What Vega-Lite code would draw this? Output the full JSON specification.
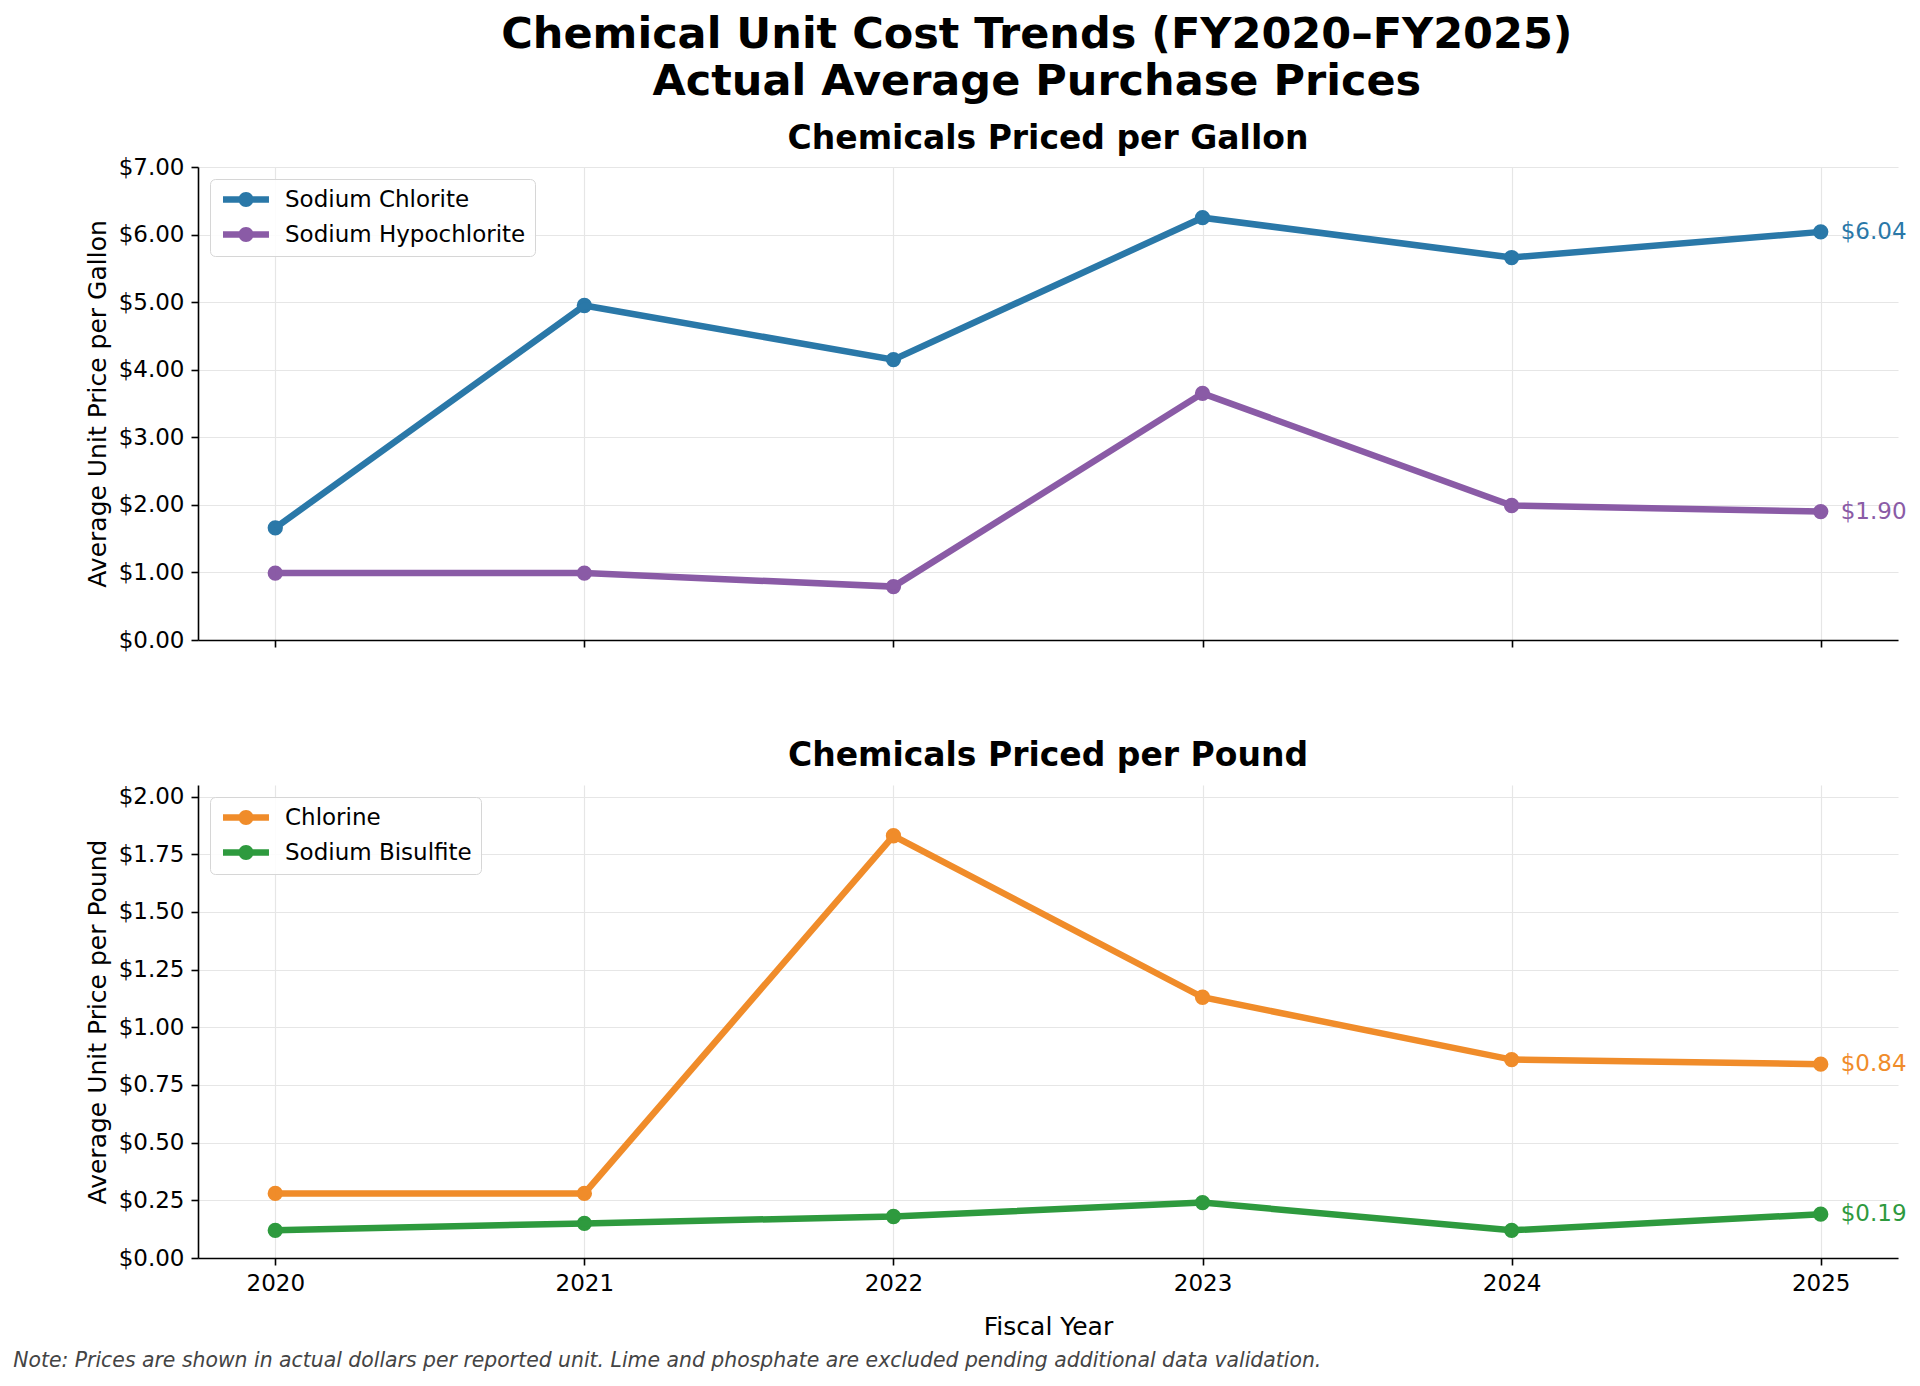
{
  "$schema": "https://vega.github.io/schema/vega-lite/v6.json",
  "background": "white",
  "padding": {"left": 13, "top": 14, "right": 8, "bottom": 8},
  "datasets": {
    "gallon": [
      {"year": 2020, "chemical": "Sodium Chlorite", "price": 1.66},
      {"year": 2021, "chemical": "Sodium Chlorite", "price": 4.95},
      {"year": 2022, "chemical": "Sodium Chlorite", "price": 4.15},
      {"year": 2023, "chemical": "Sodium Chlorite", "price": 6.25},
      {"year": 2024, "chemical": "Sodium Chlorite", "price": 5.66},
      {"year": 2025, "chemical": "Sodium Chlorite", "price": 6.04},
      {"year": 2020, "chemical": "Sodium Hypochlorite", "price": 0.99},
      {"year": 2021, "chemical": "Sodium Hypochlorite", "price": 0.99},
      {"year": 2022, "chemical": "Sodium Hypochlorite", "price": 0.79},
      {"year": 2023, "chemical": "Sodium Hypochlorite", "price": 3.65},
      {"year": 2024, "chemical": "Sodium Hypochlorite", "price": 1.99},
      {"year": 2025, "chemical": "Sodium Hypochlorite", "price": 1.90}
    ],
    "pound": [
      {"year": 2020, "chemical": "Chlorine", "price": 0.28},
      {"year": 2021, "chemical": "Chlorine", "price": 0.28},
      {"year": 2022, "chemical": "Chlorine", "price": 1.83},
      {"year": 2023, "chemical": "Chlorine", "price": 1.13},
      {"year": 2024, "chemical": "Chlorine", "price": 0.86},
      {"year": 2025, "chemical": "Chlorine", "price": 0.84},
      {"year": 2020, "chemical": "Sodium Bisulfite", "price": 0.12},
      {"year": 2021, "chemical": "Sodium Bisulfite", "price": 0.15},
      {"year": 2022, "chemical": "Sodium Bisulfite", "price": 0.18},
      {"year": 2023, "chemical": "Sodium Bisulfite", "price": 0.24},
      {"year": 2024, "chemical": "Sodium Bisulfite", "price": 0.12},
      {"year": 2025, "chemical": "Sodium Bisulfite", "price": 0.19}
    ]
  },
  "title": {
    "text": "Note: Prices are shown in actual dollars per reported unit. Lime and phosphate are excluded pending additional data validation.",
    "orient": "bottom",
    "anchor": "start",
    "fontSize": 20.4,
    "fontStyle": "italic",
    "fontWeight": "normal",
    "color": "#444444",
    "offset": 12,
    "dx": -72
  },
  "vconcat": [
    {
      "title": {
        "text": ["Chemical Unit Cost Trends (FY2020–FY2025)", "Actual Average Purchase Prices"],
        "fontSize": 43,
        "lineHeight": 47,
        "fontWeight": "bold",
        "anchor": "middle",
        "offset": 19,
        "dx": 41,
        "color": "black"
      },
      "spacing": 88,
      "resolve": {"scale": {"color": "independent"}, "legend": {"color": "independent"}},
      "vconcat": [
        {
          "width": 1700,
          "height": 473,
          "data": {"name": "gallon"},
          "title": {"text": "Chemicals Priced per Gallon", "fontSize": 33, "fontWeight": "bold", "offset": 0, "anchor": "middle"},
          "encoding": {
            "x": {
              "field": "year", "type": "quantitative",
              "scale": {"domain": [2019.75, 2025.25], "nice": false, "zero": false},
              "axis": {"values": [2020, 2021, 2022, 2023, 2024, 2025], "labels": false, "title": null}
            },
            "y": {
              "field": "price", "type": "quantitative",
              "scale": {"domain": [0, 7], "nice": false},
              "axis": {"values": [0, 1, 2, 3, 4, 5, 6, 7], "format": "$.2f", "title": "Average Unit Price per Gallon"}
            },
            "color": {
              "field": "chemical", "type": "nominal",
              "scale": {"domain": ["Sodium Chlorite", "Sodium Hypochlorite"], "range": ["#2a78a8", "#8a5ba6"]}
            }
          },
          "layer": [
            {
              "mark": {"type": "point", "filled": true, "size": 235, "opacity": 1},
              "encoding": {
                "color": {
                  "field": "chemical", "type": "nominal",
                  "scale": {"domain": ["Sodium Chlorite", "Sodium Hypochlorite"], "range": ["#2a78a8", "#8a5ba6"]},
                  "legend": {"title": null, "orient": "top-left", "offset": 12}
                }
              }
            },
            {
              "mark": {"type": "line", "strokeWidth": 6.5},
              "encoding": {
                "color": {"field": "chemical", "type": "nominal", "legend": null}
              }
            },
            {
              "transform": [{"filter": "datum.year == 2025"}],
              "mark": {"type": "text", "align": "left", "baseline": "middle", "dx": 20, "fontSize": 23},
              "encoding": {
                "text": {"field": "price", "type": "quantitative", "format": "$.2f"},
                "color": {"field": "chemical", "type": "nominal", "legend": null}
              }
            }
          ]
        },
        {
          "width": 1700,
          "height": 473,
          "data": {"name": "pound"},
          "title": {"text": "Chemicals Priced per Pound", "fontSize": 33, "fontWeight": "bold", "offset": 12, "anchor": "middle"},
          "encoding": {
            "x": {
              "field": "year", "type": "quantitative",
              "scale": {"domain": [2019.75, 2025.25], "nice": false, "zero": false},
              "axis": {"values": [2020, 2021, 2022, 2023, 2024, 2025], "format": "d", "title": "Fiscal Year", "titlePadding": 19}
            },
            "y": {
              "field": "price", "type": "quantitative",
              "scale": {"domain": [0, 2.05], "nice": false},
              "axis": {"values": [0, 0.25, 0.5, 0.75, 1, 1.25, 1.5, 1.75, 2], "format": "$.2f", "title": "Average Unit Price per Pound"}
            },
            "color": {
              "field": "chemical", "type": "nominal",
              "scale": {"domain": ["Chlorine", "Sodium Bisulfite"], "range": ["#f08c2a", "#2e9a3e"]}
            }
          },
          "layer": [
            {
              "mark": {"type": "point", "filled": true, "size": 235, "opacity": 1},
              "encoding": {
                "color": {
                  "field": "chemical", "type": "nominal",
                  "scale": {"domain": ["Chlorine", "Sodium Bisulfite"], "range": ["#f08c2a", "#2e9a3e"]},
                  "legend": {"title": null, "orient": "top-left", "offset": 12}
                }
              }
            },
            {
              "mark": {"type": "line", "strokeWidth": 6.5},
              "encoding": {
                "color": {"field": "chemical", "type": "nominal", "legend": null}
              }
            },
            {
              "transform": [{"filter": "datum.year == 2025"}],
              "mark": {"type": "text", "align": "left", "baseline": "middle", "dx": 20, "fontSize": 23},
              "encoding": {
                "text": {"field": "price", "type": "quantitative", "format": "$.2f"},
                "color": {"field": "chemical", "type": "nominal", "legend": null}
              }
            }
          ]
        }
      ]
    }
  ],
  "config": {
    "font": "DejaVu Sans",
    "view": {"stroke": null},
    "title": {"font": "DejaVu Sans", "color": "black"},
    "axis": {
      "labelFont": "DejaVu Sans",
      "labelFontSize": 23,
      "labelColor": "black",
      "labelPadding": 7,
      "titleFont": "DejaVu Sans",
      "titleFontSize": 25,
      "titleFontWeight": "normal",
      "titleColor": "black",
      "titlePadding": 8,
      "domainColor": "black",
      "domainWidth": 1.6,
      "tickColor": "black",
      "tickWidth": 1.6,
      "tickSize": 7,
      "gridColor": "#e6e6e6",
      "gridWidth": 1.2
    },
    "axisX": {"labelAngle": 0},
    "legend": {
      "labelFont": "DejaVu Sans",
      "labelFontSize": 23,
      "labelColor": "black",
      "labelOffset": 43,
      "labelLimit": 500,
      "symbolType": "M-1,-0.42L5.13,-0.42L5.13,0.42L-1,0.42Z M3.07,0A1,1,0,1,1,1.07,0A1,1,0,1,1,3.07,0Z",
      "symbolSize": 225,
      "symbolStrokeWidth": 0,
      "symbolOpacity": 1,
      "padding": 9,
      "rowPadding": 11,
      "strokeColor": "#d6d6d6",
      "fillColor": "rgba(255,255,255,0.85)",
      "cornerRadius": 5
    }
  }
}
